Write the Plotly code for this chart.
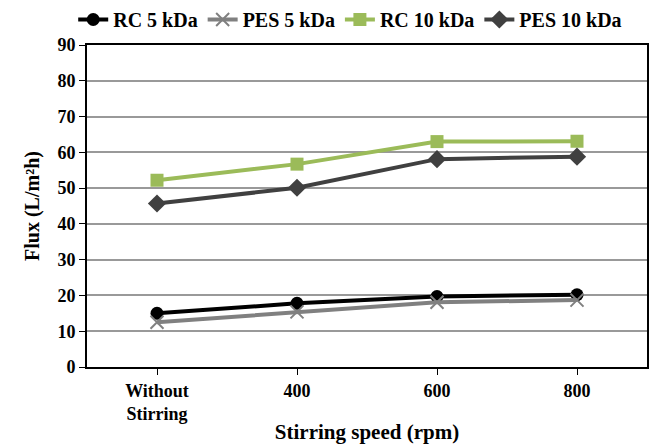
import plotly.graph_objects as go

categories = ["Without<br>Stirring", "400", "600", "800"]
rc5 = [15.0, 17.8, 19.7, 20.2]
pes5 = [12.5, 15.4, 18.1, 18.7]
rc10 = [52.2, 56.7, 63.0, 63.1]
pes10 = [45.7, 50.1, 58.1, 58.8]
y_ticks = [0, 10, 20, 30, 40, 50, 60, 70, 80, 90]

font_family = "Liberation Serif, Times New Roman, serif"

fig = go.Figure()
fig.add_trace(go.Scatter(x=categories, y=rc5, name="RC 5 kDa", mode="lines+markers",
                         line=dict(color="#000000", width=4),
                         marker=dict(symbol="circle", size=13, color="#000000")))
fig.add_trace(go.Scatter(x=categories, y=pes5, name="PES 5 kDa", mode="lines+markers",
                         line=dict(color="#808080", width=4),
                         marker=dict(symbol="x-thin", size=13, color="#808080",
                                     line=dict(color="#808080", width=2))))
fig.add_trace(go.Scatter(x=categories, y=rc10, name="RC 10 kDa", mode="lines+markers",
                         line=dict(color="#9BBB59", width=4),
                         marker=dict(symbol="square", size=13, color="#9BBB59")))
fig.add_trace(go.Scatter(x=categories, y=pes10, name="PES 10 kDa", mode="lines+markers",
                         line=dict(color="#404040", width=4),
                         marker=dict(symbol="diamond", size=14, color="#404040")))

fig.update_layout(
    width=653, height=444,
    margin=dict(l=87, r=6, t=45, b=77, autoexpand=False),
    paper_bgcolor="white", plot_bgcolor="white",
    font=dict(family=font_family, size=18, color="black", weight="bold"),
    legend=dict(orientation="h", x=0.47, xanchor="center", y=1.0, yanchor="top",
                yref="container", font=dict(size=20, weight="bold"), itemwidth=30,
                tracegroupgap=0, traceorder="normal"),
    xaxis=dict(
        type="category", range=[-0.5, 3.5], automargin=False,
        showline=True, linecolor="black", linewidth=2, mirror=True,
        ticks="outside", ticklen=6, tickcolor="black", tickwidth=1,
        tickfont=dict(size=18, family=font_family, weight="bold"),
        title=dict(text="Stirring speed (rpm)", font=dict(size=21, weight="bold"), standoff=2),
        showgrid=False,
    ),
    yaxis=dict(
        range=[0, 90], tickvals=y_ticks, automargin=False,
        showline=True, linecolor="black", linewidth=2, mirror=True,
        ticks="outside", ticklen=6, tickcolor="black",
        tickfont=dict(size=18, family=font_family, weight="bold"),
        showgrid=True, gridcolor="#999999", gridwidth=2,
        zeroline=False,
        title=dict(text="Flux (L/m²h)", font=dict(size=20, weight="bold"), standoff=12),
    ),
)

fig.write_html("out.html", config={"displayModeBar": False},
               post_script="document.body.style.margin='0';")
